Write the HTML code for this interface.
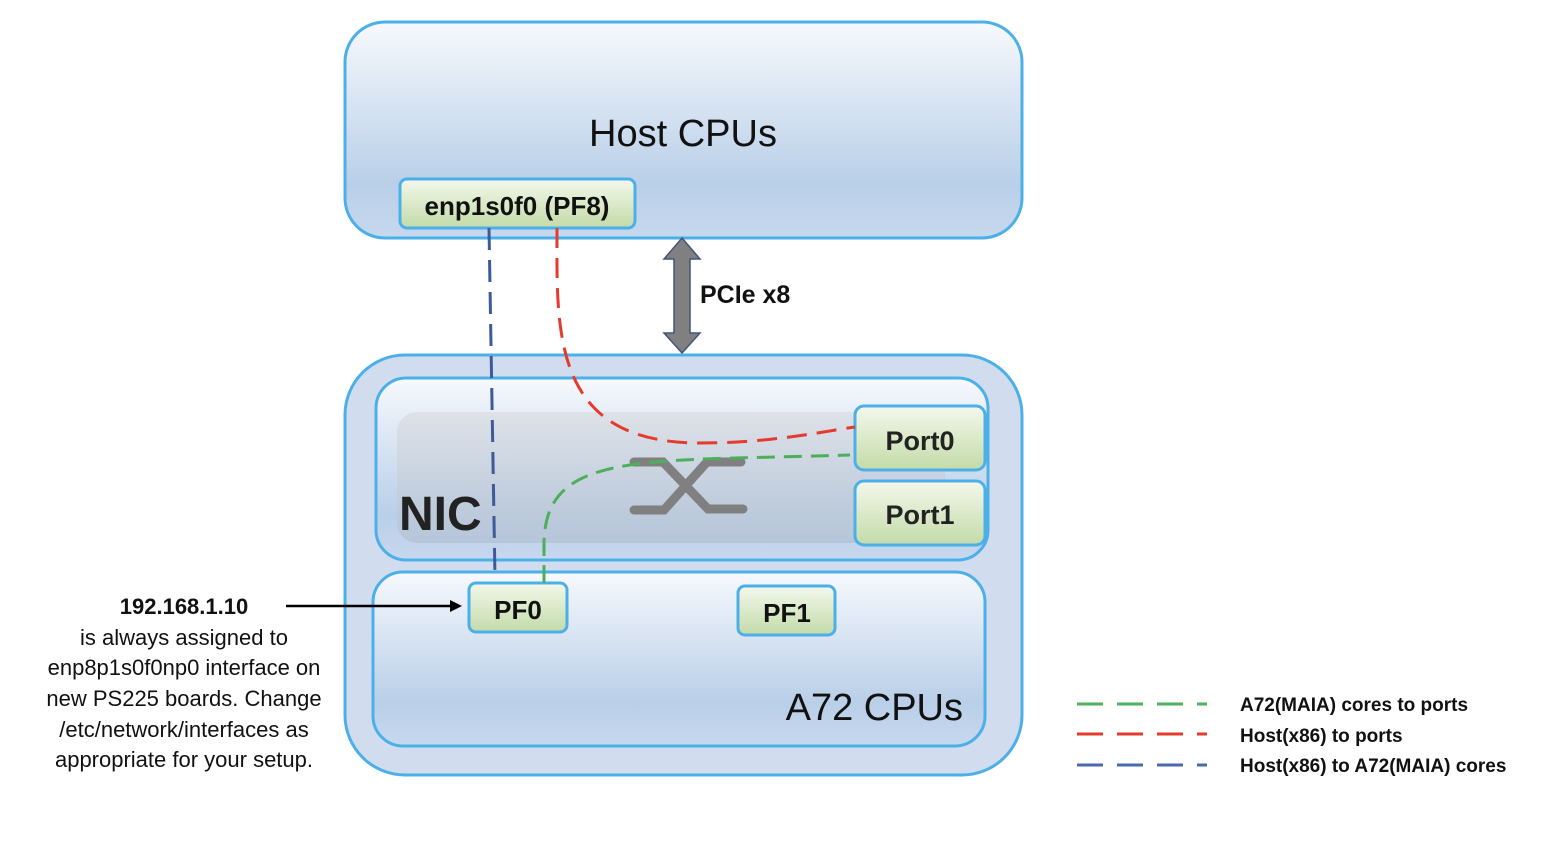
<!DOCTYPE html>
<html><head><meta charset="utf-8"><style>
body{margin:0;background:#fff;}
svg{display:block;font-family:"Liberation Sans",sans-serif;}
</style></head><body>
<svg width="1552" height="842" viewBox="0 0 1552 842" xmlns="http://www.w3.org/2000/svg">
<defs>
<linearGradient id="bl" x1="0" y1="0" x2="0" y2="1">
<stop offset="0" stop-color="#f7f9fd"/><stop offset="0.75" stop-color="#b9cfe8"/><stop offset="1" stop-color="#c7d8ee"/></linearGradient>
<linearGradient id="gr" x1="0" y1="0" x2="0" y2="1">
<stop offset="0" stop-color="#f4f8ec"/><stop offset="1" stop-color="#c3dba8"/></linearGradient>
<linearGradient id="gy" x1="0" y1="0" x2="0" y2="1">
<stop offset="0" stop-color="#dcdfe5"/><stop offset="1" stop-color="#b4c3d6"/></linearGradient>
</defs>
<rect x="345" y="22" width="677" height="216" rx="40" fill="url(#bl)" stroke="#4cb0e8" stroke-width="3"/>
<text x="683" y="146" font-size="38" text-anchor="middle" fill="#111">Host CPUs</text>
<rect x="400" y="179" width="235" height="49" rx="7" fill="url(#gr)" stroke="#4cb0e8" stroke-width="3"/>
<text x="517" y="215" font-size="26" font-weight="bold" text-anchor="middle" fill="#111">enp1s0f0 (PF8)</text>
<polygon points="682,238 700,259 690,259 690,333 700,333 682,353 664,333 674,333 674,259 664,259" fill="#808080" stroke="#44557a" stroke-width="1.5"/>
<text x="700" y="303" font-size="25" font-weight="bold" fill="#111">PCIe x8</text>
<rect x="345" y="355" width="677" height="420" rx="60" fill="#d1ddef" stroke="#4cb0e8" stroke-width="3"/>
<rect x="376" y="378" width="612" height="182" rx="30" fill="url(#bl)" stroke="#4cb0e8" stroke-width="3"/>
<rect x="397" y="412" width="548" height="131" rx="20" fill="url(#gy)" opacity="0.85"/>
<text x="399" y="530" font-size="48" font-weight="bold" fill="#222">NIC</text>
<g stroke="#808080" stroke-width="9" stroke-linecap="round" fill="none">
<path d="M634,462 L663,462 L708,509 L743,509"/>
<path d="M634,510 L664,510 L707,462 L741,462"/>
</g>
<rect x="855" y="406" width="130" height="64" rx="9" fill="url(#gr)" stroke="#4cb0e8" stroke-width="3"/>
<text x="920" y="450" font-size="27" font-weight="bold" text-anchor="middle" fill="#222">Port0</text>
<rect x="855" y="481" width="130" height="64" rx="9" fill="url(#gr)" stroke="#4cb0e8" stroke-width="3"/>
<text x="920" y="524" font-size="27" font-weight="bold" text-anchor="middle" fill="#222">Port1</text>
<rect x="373" y="572" width="612" height="174" rx="30" fill="url(#bl)" stroke="#4cb0e8" stroke-width="3"/>
<text x="963" y="720" font-size="38" text-anchor="end" fill="#111">A72 CPUs</text>
<rect x="469" y="583" width="98" height="49" rx="7" fill="url(#gr)" stroke="#4cb0e8" stroke-width="3"/>
<text x="518" y="619" font-size="26" font-weight="bold" text-anchor="middle" fill="#111">PF0</text>
<rect x="738" y="586" width="97" height="49" rx="7" fill="url(#gr)" stroke="#4cb0e8" stroke-width="3"/>
<text x="787" y="622" font-size="26" font-weight="bold" text-anchor="middle" fill="#111">PF1</text>
<path d="M489,228 L495,578" stroke="#3d5a9a" stroke-width="3" stroke-dasharray="22,10" fill="none"/>
<path d="M557,228 C557,330 550,443 700,443 C770,443 820,432 855,427" stroke="#e53a2e" stroke-width="3" stroke-dasharray="20,10" fill="none"/>
<path d="M544,583 L544,545 C544,450 640,462 850,455" stroke="#4caf5a" stroke-width="3" stroke-dasharray="18,9" fill="none"/>
<line x1="286" y1="606" x2="455" y2="606" stroke="#000" stroke-width="2.5"/>
<polygon points="462,606 450,600 450,612" fill="#000"/>
<g font-size="22" text-anchor="middle" fill="#111">
<text x="184" y="614" font-weight="bold">192.168.1.10</text>
<text x="184" y="645">is always assigned to</text>
<text x="184" y="675">enp8p1s0f0np0 interface on</text>
<text x="184" y="706">new PS225 boards. Change</text>
<text x="184" y="737">/etc/network/interfaces as</text>
<text x="184" y="767">appropriate for your setup.</text>
</g>
<line x1="1077" y1="704" x2="1207" y2="704" stroke="#4caf5a" stroke-width="3" stroke-dasharray="26,14"/>
<line x1="1077" y1="734" x2="1207" y2="734" stroke="#e53a2e" stroke-width="3" stroke-dasharray="26,14"/>
<line x1="1077" y1="765" x2="1207" y2="765" stroke="#4a6ab0" stroke-width="3" stroke-dasharray="26,14"/>
<g font-size="19" font-weight="bold" fill="#111">
<text x="1240" y="711">A72(MAIA) cores to ports</text>
<text x="1240" y="742">Host(x86) to ports</text>
<text x="1240" y="772">Host(x86) to A72(MAIA) cores</text>
</g>
</svg>
</body></html>
